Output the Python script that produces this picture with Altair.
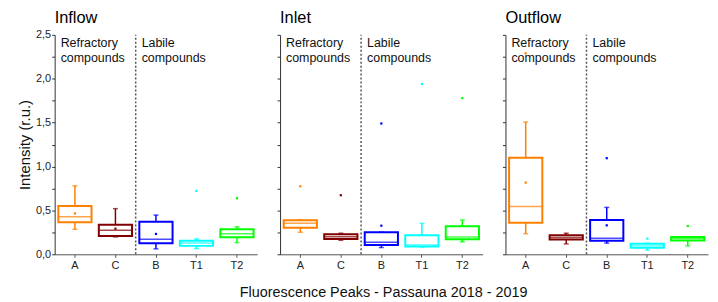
import altair as alt
import pandas as pd

cats = ["A", "C", "B", "T1", "T2"]
colors = ["#FF8000", "#800000", "#0000FF", "#00FFFF", "#00FF00"]
panel_names = ["Inflow", "Inlet", "Outflow"]
x_title = "Fluorescence Peaks - Passauna 2018 - 2019"
y_title = "Intensity (r.u.)"
y_ticks = [0, 0.25, 0.5, 0.75, 1.0, 1.25, 1.5, 1.75, 2.0, 2.25, 2.5]

# Inflow
inflow_q1 = [0.364, 0.209, 0.126, 0.096, 0.194]
inflow_med = [0.428, 0.273, 0.172, 0.130, 0.235]
inflow_q3 = [0.549, 0.337, 0.371, 0.155, 0.285]
inflow_lo = [0.285, 0.198, 0.062, 0.065, 0.133]
inflow_hi = [0.780, 0.520, 0.447, 0.175, 0.314]
inflow_mean = [0.466, 0.292, 0.232, None, None]
inflow_out_cat = ["T1", "T2"]
inflow_out_val = [0.722, 0.639]

# Inlet
inlet_q1 = [0.303, 0.175, 0.107, 0.088, 0.172]
inlet_med = [0.353, 0.201, 0.138, 0.107, 0.198]
inlet_q3 = [0.387, 0.228, 0.251, 0.217, 0.319]
inlet_lo = [0.251, 0.160, 0.077, 0.081, 0.141]
inlet_hi = [0.394, 0.240, 0.251, 0.353, 0.390]
inlet_mean = [None, None, 0.326, None, None]
inlet_out_cat = ["A", "C", "B", "T1", "T2"]
inlet_out_val = [0.775, 0.673, 1.49, 1.94, 1.78]

# Outflow
outflow_q1 = [0.360, 0.168, 0.153, 0.074, 0.156]
outflow_med = [0.545, 0.190, 0.183, 0.096, 0.179]
outflow_q3 = [1.100, 0.217, 0.390, 0.119, 0.198]
outflow_lo = [0.235, 0.119, 0.127, 0.048, 0.096]
outflow_hi = [1.507, 0.240, 0.534, 0.127, 0.200]
outflow_mean = [0.817, None, 0.330, None, None]
outflow_out_cat = ["A", "B", "T1", "T2"]
outflow_out_val = [2.29, 1.095, 0.179, 0.322]

group_labels = ["Refractory\ncompounds", "Labile\ncompounds"]
group_cats = ["A", "B"]

FONT = "Liberation Sans"


def make_panel(name, q1, med, q3, lo, hi, mean, oc, ov, first, title_offset):
    df = pd.DataFrame({"cat": cats, "q1": q1, "med": med, "q3": q3,
                       "lo": lo, "hi": hi, "mean": mean})
    mean_df = df.dropna(subset=["mean"])
    out_df = pd.DataFrame({"cat": oc, "val": ov})
    div_df = pd.DataFrame({"cat": ["B"]})
    lab_df = pd.DataFrame({"cat": group_cats, "label": group_labels})

    xscale = alt.Scale(domain=cats, paddingInner=0, paddingOuter=0)
    xaxis = alt.Axis(labelAngle=0, tickSize=3, labelPadding=2, labelFontSize=11,
                     labelFont=FONT, labelColor="#222",
                     domainColor="#555", tickColor="#555")
    yscale = alt.Scale(domain=[0, 2.5], nice=False, zero=True)
    yaxis = alt.Axis(values=y_ticks, tickSize=3, labelPadding=1, labelFontSize=11,
                     labels=first, grid=False, labelFont=FONT, labelColor="#222",
                     labelExpr="(datum.value*2) % 1 == 0 ? replace(format(datum.value, '.1f'), '.', ',') : ''",
                     titleFontSize=15, titlePadding=3, titleFontWeight="normal",
                     titleFont=FONT, titleColor="#111",
                     domainColor="#333", tickColor="#333")
    yt = y_title if first else None

    def X(**kw):
        return alt.X("cat:N", sort=cats, scale=xscale, axis=xaxis, title=None, **kw)

    def Y(field):
        return alt.Y(field, type="quantitative", scale=yscale, axis=yaxis, title=yt)

    col = alt.Color("cat:N", scale=alt.Scale(domain=cats, range=colors), legend=None)

    base = alt.Chart(df)
    box = base.mark_bar(filled=False, strokeWidth=2,
                        width=alt.RelativeBandSize(band=0.82)).encode(
        x=X(), y=Y("q1"), y2="q3", color=col)
    wlo = base.mark_rule(strokeWidth=1.5).encode(x=X(), y=Y("lo"), y2="q1", color=col)
    whi = base.mark_rule(strokeWidth=1.5).encode(x=X(), y=Y("q3"), y2="hi", color=col)
    cap_lo = base.mark_tick(size=5, thickness=1.5).encode(x=X(), y=Y("lo"), color=col)
    cap_hi = base.mark_tick(size=5, thickness=1.5).encode(x=X(), y=Y("hi"), color=col)
    median = base.mark_tick(size=33, thickness=1.5).encode(x=X(), y=Y("med"), color=col)
    means = alt.Chart(mean_df).mark_square(size=5, opacity=1).encode(
        x=X(), y=Y("mean"), color=col)
    outs = alt.Chart(out_df).mark_square(size=5, opacity=1).encode(
        x=X(), y=Y("val"), color=col)
    divider = alt.Chart(div_df).mark_rule(color="#555", strokeWidth=1.5,
                                          strokeDash=[2, 2]).encode(
        x=X(bandPosition=0),
        y=alt.Y(datum=0, scale=yscale, axis=yaxis, title=yt),
        y2=alt.Y2(datum=2.5))
    labels = alt.Chart(lab_df).mark_text(
        align="left", baseline="top", dx=6, fontSize=12.5, lineHeight=15,
        lineBreak="\n", font=FONT, color="#111").encode(
        x=X(bandPosition=0),
        y=alt.Y(datum=2.47, scale=yscale, axis=yaxis, title=yt),
        text="label:N")

    return alt.layer(divider, box, wlo, whi, cap_lo, cap_hi, median, means, outs,
                     labels).properties(
        width=204, height=221,
        title=alt.TitleParams(text=name, anchor="start", fontSize=16.5,
                              fontWeight="normal", font=FONT, offset=title_offset,
                              frame="group", color="#000"))


p1 = make_panel(panel_names[0], inflow_q1, inflow_med, inflow_q3, inflow_lo,
                inflow_hi, inflow_mean, inflow_out_cat, inflow_out_val, True, 2)
p2 = make_panel(panel_names[1], inlet_q1, inlet_med, inlet_q3, inlet_lo,
                inlet_hi, inlet_mean, inlet_out_cat, inlet_out_val, False, 8)
p3 = make_panel(panel_names[2], outflow_q1, outflow_med, outflow_q3, outflow_lo,
                outflow_hi, outflow_mean, outflow_out_cat, outflow_out_val, False, 8)

chart = alt.hconcat(p1, p2, p3, spacing=19).properties(
    padding={"left": 9, "top": 0, "right": 2, "bottom": 2},
    background="white",
    title=alt.TitleParams(text=x_title, orient="bottom", anchor="middle",
                          fontSize=14.5, fontWeight="normal", font=FONT,
                          color="#111", dx=21, offset=16)
).configure_view(stroke=None)

chart.save("out.html", embed_options={"renderer": "svg", "actions": False})
